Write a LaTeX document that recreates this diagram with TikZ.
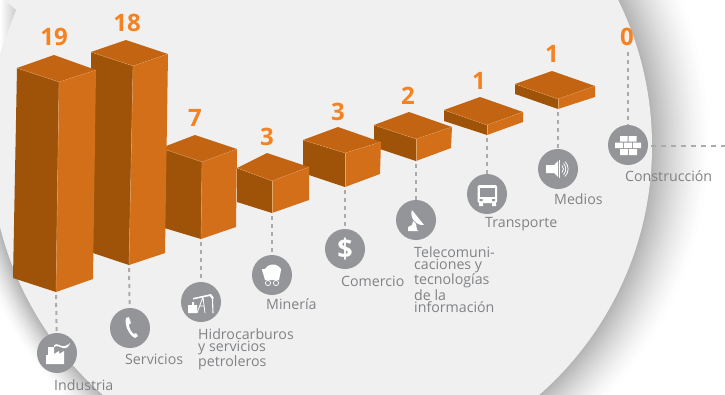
\documentclass[tikz,border=0pt]{standalone}
\usepackage{fontspec}
\setmainfont{Open Sans}
\definecolor{disc}{HTML}{F0F0F0}
\definecolor{topface}{HTML}{C26412}
\definecolor{leftface}{HTML}{9E5308}
\definecolor{rightface}{HTML}{D36F18}
\definecolor{seam}{HTML}{E2A468}
\definecolor{numcol}{HTML}{F58220}
\definecolor{dotcol}{HTML}{939598}
\definecolor{labcol}{HTML}{808285}
\definecolor{dashcol}{HTML}{ABABAD}
\tikzset{
  x=1pt,y=-1pt,
  dot/.style={circle,fill=dotcol,minimum size=40pt,inner sep=0pt},
  num/.style={anchor=base,inner sep=0pt,text=numcol,font=\fontsize{24}{24}\selectfont\bfseries},
  lab/.style={anchor=north west,inner sep=0pt,text=labcol,align=left,font=\fontsize{14.2}{12.2}\selectfont},
  link/.style={draw=dashcol,line width=2pt,dash pattern=on 4pt off 4pt},
  seamline/.style={draw=seam,line width=0.4pt,dash pattern=on 2pt off 1pt},
  ico/.style={fill=white,draw=none},
  icoline/.style={draw=white,fill=none,line width=1pt}
}
% name, left, back, right, front, left-bottom, right-bottom, front-bottom
\newcommand{\barbox}[8]{%
  \fill[leftface] #2 -- #5 -- #8 -- #6 -- cycle;
  \fill[rightface] #5 -- #4 -- #7 -- #8 -- cycle;
  \fill[topface] #2 -- #3 -- #4 -- #5 -- cycle;
  \draw[seamline] #2 -- #5 -- #4;
  \draw[draw=seam,line width=0.35pt] #5 -- #8;
  \coordinate (#1) at #8;
}
\begin{document}
\begin{tikzpicture}
\useasboundingbox (0,0) rectangle (725,394);
\begin{scope}
\clip (0,0) rectangle (725,394);
\fill[white] (0,0) rectangle (725,394);
\foreach \t in {60,58.5,...,0}{
  \pgfmathsetmacro\v{30*(1-\t/60)^1.5}
  \pgfmathsetmacro\cx{321+0.25*\t}
  \pgfmathsetmacro\cy{146-0.12*\t}
  \pgfmathsetmacro\r{331+0.75*\t}
  \fill[black!\v!white] (\cx,\cy) circle[radius=\r pt];
}
\fill[disc] (321,146) circle[radius=331pt];
\fill[disc] (0,0) rectangle (60,80);
\shade[left color=white,right color=black!20!white] (0,0) -- (5,0) -- (16,10) -- (0,53) -- cycle;
\end{scope}

% bars, right to left
\barbox{b8}{(515,84)}{(552,71)}{(595,86)}{(558,99)}{(515,94)}{(595,97)}{(558,109)}
\barbox{b7}{(444,110)}{(480,97)}{(523,112)}{(487,125)}{(444,121)}{(523,122)}{(487,135)}
\barbox{b6}{(374,125)}{(409,112)}{(452,127)}{(416,139)}{(374,147)}{(451,148)}{(416,161)}
\barbox{b5}{(303,140)}{(338,127)}{(381,142)}{(345,153)}{(303,173)}{(380,174)}{(345,187)}
\barbox{b4}{(237,168)}{(267,153)}{(309,167)}{(272,181)}{(237,202)}{(309,200)}{(272,213)}
\barbox{b3}{(161,148)}{(195,135)}{(237,149)}{(202,162)}{(161,227)}{(236,227)}{(201,239)}
\barbox{b2}{(91,52)}{(126,40)}{(168,54)}{(133,66)}{(93,253)}{(165,253)}{(129,265)}
\barbox{b1}{(17,68)}{(54,55)}{(96,70)}{(59,82)}{(13,278)}{(93,279)}{(56,292)}

% numbers
\node[num] (n1) at (54,45) {19};
\node[num] (n2) at (127,31) {18};
\node[num] (n3) at (195,126) {7};
\node[num] (n4) at (267,145) {3};
\node[num] (n5) at (338,120) {3};
\node[num] (n6) at (408,104) {2};
\node[num] (n7) at (479,89) {1};
\node[num] (n8) at (552,62) {1};
\node[num] (n9) at (627,45) {0};

% icon discs
\node[dot] (c1) at (57,353) {};
\node[dot] (c2) at (130,328) {};
\node[dot] (c3) at (201,302) {};
\node[dot] (c4) at (272,275) {};
\node[dot] (c5) at (345,249) {};
\node[dot] (c6) at (416,220) {};
\node[dot] (c7) at (487,194) {};
\node[dot] (c8) at (558,169) {};
\node[dot] (c9) at (628,145) {};

% connectors
\coordinate (t9) at (628,52);
\coordinate (e9) at (725,146);
\draw[link,shorten <=3pt] (b1) -- (c1);
\draw[link,shorten <=3pt] (b2) -- (c2);
\draw[link,shorten <=3pt] (b3) -- (c3);
\draw[link,shorten <=3pt] (b4) -- (c4);
\draw[link,shorten <=3pt] (b5) -- (c5);
\draw[link,shorten <=3pt] (b6) -- (c6);
\draw[link,shorten <=3pt] (b7) -- (c7);
\draw[link,shorten <=3pt] (b8) -- (c8);
\draw[link] (t9) -- (c9);
\draw[link,dash pattern=on 5pt off 5pt] (651,146) -- (e9);

% factory
\begin{scope}[shift={(c1.center)}]
  \fill[ico] (-11,11) -- (-11,2) -- (-9,2) -- (-9,-6) -- (-3,-6) -- (-3,1) -- (2,-2) -- (2,1) -- (7,-2) -- (7,11) -- cycle;
  \fill[ico] (-3,-8) .. controls (1,-11) and (4,-5) .. (8,-7) .. controls (11,-8) and (12,-9) .. (13,-10) .. controls (12,-6) and (9,-4) .. (6,-5) .. controls (3,-6) and (0,-8) .. (-3,-6) -- cycle;
\end{scope}
% telephone
\begin{scope}[shift={(c2.center)}]
  \fill[ico] (-4,-10) -- (-1,-11) -- (1,-5) -- (-1,-3.5) .. controls (-1,1) and (2,5) .. (4,6) -- (6,5) -- (8,8) -- (5,10) .. controls (0,8) and (-6,-2) .. (-4,-10) -- cycle;
\end{scope}
% oil pump
\begin{scope}[shift={(c3.center)}]
  \fill[ico] (-13,3) -- (-9,3) -- (-9,0) -- (-7,0) -- (-7,3) -- (-4,3) -- (-4,11) -- (-13,11) -- cycle;
  \fill[ico] (-8,-4) -- (10,-8) -- (13,-4) -- (11,-3) -- (9,-6) -- (-8,-2.5) -- cycle;
  \draw[icoline,line width=0.8pt] (2,-5) -- (-4,11) (2,-5) -- (4,11) (-1,4) -- (3,4);
  \draw[icoline,line width=1.1pt] (11.5,-3) -- (12,11);
\end{scope}
% mine cart
\begin{scope}[shift={(c4.center)}]
  \fill[ico] (-10,-6) -- (-7,-6) .. controls (-5,-9) and (-2,-11) .. (3,-10.5) .. controls (6,-10) and (7,-8) .. (9,-6) -- (9,-5) -- (7,5) -- (-7,5) -- (-10,-5) -- cycle;
  \draw[icoline,line width=0.7pt] (-4,8) circle[radius=2.6pt] (4,8) circle[radius=2.6pt];
\end{scope}
% dollar
\node[inner sep=0pt,text=white,font=\fontsize{27}{27}\selectfont\bfseries] (d5) at (c5.center) {\$};
% dish
\begin{scope}[shift={(c6.center)}]
  \fill[ico] (-4,-10) .. controls (-7,-3) and (0,6) .. (8,5) -- cycle;
  \fill[ico] (-3,1) -- (0,4) -- (1,10) -- (2,10) -- (2,11) -- (-8,11) -- (-8,7) -- (-4,5) -- cycle;
\end{scope}
% bus
\begin{scope}[shift={(c7.center)}]
  \fill[ico,rounded corners=1.5pt] (-9.5,-9) rectangle (10,9);
  \fill[ico] (-8,8) rectangle (-4,12) (5,8) rectangle (9,12);
  \fill[dotcol] (-7,-6) rectangle (7.5,3);
  \fill[dotcol] (-7.5,5) rectangle (-4.5,7) (5,5) rectangle (8,7);
\end{scope}
% speaker
\begin{scope}[shift={(c8.center)}]
  \fill[ico] (-12,-4) -- (-4,-4) -- (0,-8) -- (0,8) -- (-4,4) -- (-12,4) -- cycle;
  \fill[ico] (1.2,-9) rectangle (2,9);
  \draw[icoline,line width=0.8pt] (4,-3.5) arc[start angle=45,end angle=-45,radius=5pt];
  \draw[icoline,line width=0.8pt] (5.5,-5.5) arc[start angle=45,end angle=-45,radius=7.8pt];
  \draw[icoline,line width=0.8pt] (7,-7.5) arc[start angle=45,end angle=-45,radius=10.6pt];
\end{scope}
% bricks
\begin{scope}[shift={(c9.center)}]
  \fill[ico] (-8,-9) rectangle (-0.5,-3.5) (0.5,-9) rectangle (8.5,-3.5);
  \fill[ico] (-13,-2.5) rectangle (-5,3) (-4,-2.5) rectangle (4,3) (5,-2.5) rectangle (13,3);
  \fill[ico] (-8,4) rectangle (0,10) (1,4) rectangle (9,10);
\end{scope}

% labels
\node[lab] (l1) at (54,379.5) {Industria};
\node[lab] (l2) at (125,353.5) {Servicios};
\node[lab] (l3) at (198,328.5) {Hidrocarburos\\y servicios\\petroleros};
\node[lab] (l4) at (266,298.5) {Minería};
\node[lab] (l5) at (341,275.5) {Comercio};
\node[lab] (l6) at (414,246.5) {Telecomuni-\\caciones y\\tecnologías\\de la\\información};
\node[lab] (l7) at (485,217.5) {Transporte};
\node[lab] (l8) at (554,193.5) {Medios};
\node[lab] (l9) at (625,170.5) {Construcción};
\end{tikzpicture}
\end{document}
